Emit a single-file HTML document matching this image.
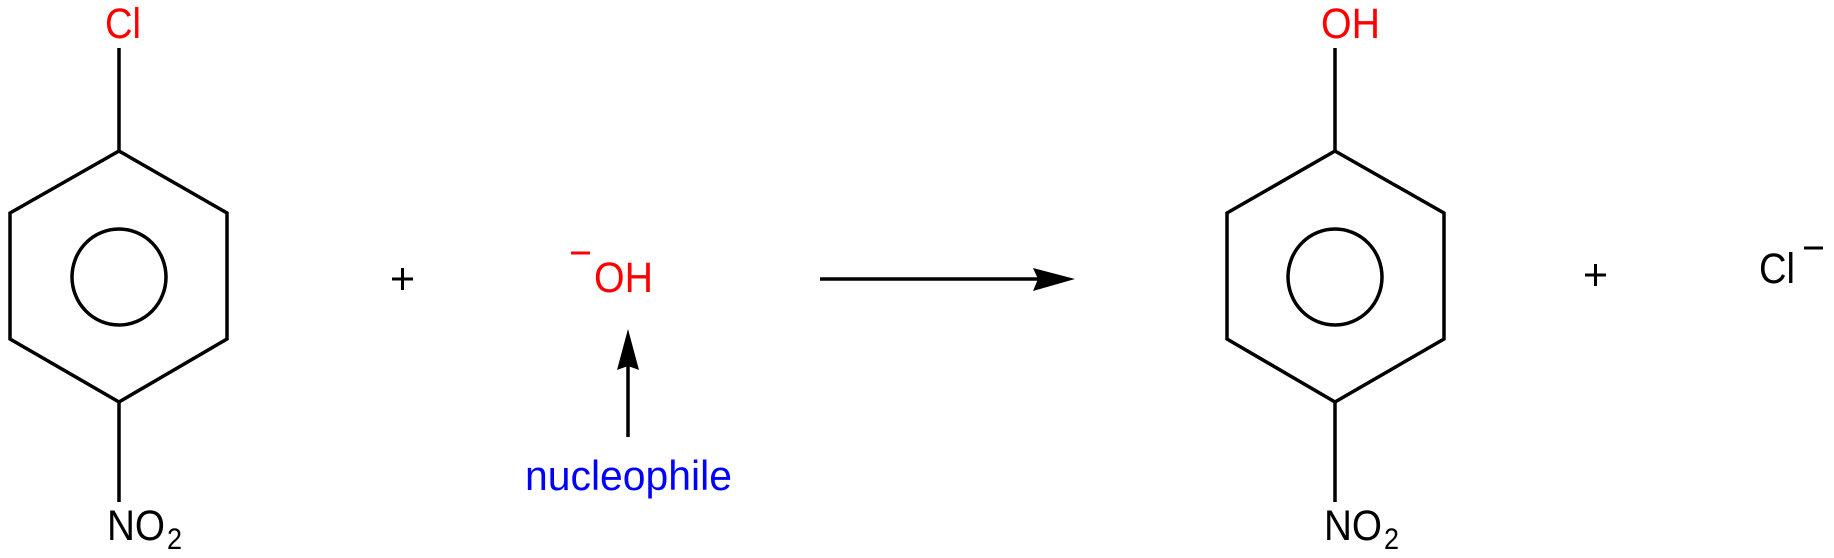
<!DOCTYPE html>
<html><head><meta charset="utf-8"><style>html,body{margin:0;padding:0;background:#fff}svg{display:block}</style></head>
<body>
<svg width="1834" height="558" viewBox="0 0 1834 558" xmlns="http://www.w3.org/2000/svg" font-family="Liberation Sans, Arial, sans-serif">
<g fill="none" stroke="#000" stroke-width="3.5">
<polygon points="119,151 227,213 227,339 119,402 10,339 10,213"/>
<ellipse cx="119" cy="277" rx="47" ry="48"/>
<line x1="119" y1="48" x2="119" y2="151"/>
<line x1="119" y1="402" x2="119" y2="502"/>
<polygon points="1335,151 1444,213 1444,339 1335,402 1227,339 1227,213"/>
<ellipse cx="1335" cy="277" rx="47" ry="48"/>
<line x1="1335" y1="48" x2="1335" y2="151"/>
<line x1="1335" y1="402" x2="1335" y2="502"/>
<line x1="820" y1="279" x2="1040" y2="279"/>
<line x1="628" y1="365" x2="628" y2="437"/>
</g>
<polygon points="1075,279 1033,268 1038,279 1033,291" fill="#000"/>
<polygon points="628,329 617,370 628,366 639,370" fill="#000"/>
<g font-size="43">
<text x="105" y="38" fill="#f00" textLength="36" lengthAdjust="spacingAndGlyphs">Cl</text>
<text x="107" y="540" fill="#000" textLength="58" lengthAdjust="spacingAndGlyphs">NO</text>
<text x="167" y="549" font-size="30" fill="#000" textLength="15" lengthAdjust="spacingAndGlyphs">2</text>
<text x="594" y="292" fill="#f00" textLength="59" lengthAdjust="spacingAndGlyphs">OH</text>
<text x="1321" y="38" fill="#f00" textLength="59" lengthAdjust="spacingAndGlyphs">OH</text>
<text x="1324" y="540" fill="#000" textLength="58" lengthAdjust="spacingAndGlyphs">NO</text>
<text x="1384" y="549" font-size="30" fill="#000" textLength="15" lengthAdjust="spacingAndGlyphs">2</text>
<text x="1759" y="283" fill="#000" textLength="36" lengthAdjust="spacingAndGlyphs">Cl</text>
<text x="525" y="490" font-size="42" fill="#00f" textLength="207" lengthAdjust="spacingAndGlyphs">nucleophile</text>
</g>
<g stroke-width="3" stroke="#f00"><line x1="571" y1="253" x2="590" y2="253"/></g>
<g stroke-width="3" stroke="#000">
<line x1="1804" y1="248" x2="1823" y2="248"/>
<line x1="392" y1="279" x2="413" y2="279"/><line x1="402.5" y1="268" x2="402.5" y2="290"/>
<line x1="1585" y1="275" x2="1606" y2="275"/><line x1="1595.5" y1="264" x2="1595.5" y2="286"/>
</g>
</svg>
</body></html>
